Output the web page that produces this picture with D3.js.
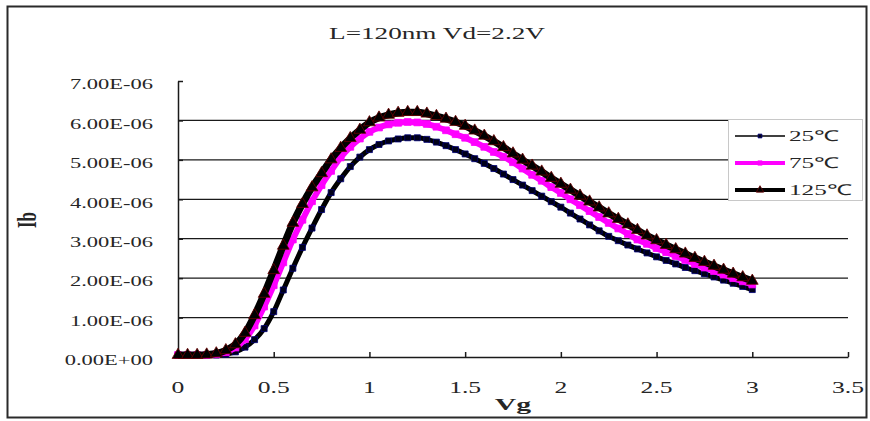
<!DOCTYPE html>
<html lang="en">
	<head>
		<title>Ib vs Vg</title>
		<script src="https://d3js.org/d3.v7.min.js"></script>
		<style>
			body { margin: 0; background: #fff; }
			text { font-family: "Liberation Serif", "Times New Roman", serif; fill: #262626; }
		</style>
	</head>
	<body>
		<div id="chart"></div>
		<script>

			var title = "L=120nm Vd=2.2V";
			var seriesNames = ["25\u2103", "75\u2103", "125\u2103"];

			// gate voltage (V)
			var vg = [0.00, 0.05, 0.10, 0.15, 0.20, 0.25, 0.30, 0.35, 0.40, 0.45,
					  0.50, 0.55, 0.60, 0.65, 0.70, 0.75, 0.80, 0.85, 0.90, 0.95,
					  1.00, 1.05, 1.10, 1.15, 1.20, 1.25, 1.30, 1.35, 1.40, 1.45,
					  1.50, 1.55, 1.60, 1.65, 1.70, 1.75, 1.80, 1.85, 1.90, 1.95,
					  2.00, 2.05, 2.10, 2.15, 2.20, 2.25, 2.30, 2.35, 2.40, 2.45,
					  2.50, 2.55, 2.60, 2.65, 2.70, 2.75, 2.80, 2.85, 2.90, 2.95, 3.00];

			// Ib in units of 1E-06
			var ib25 = [0.05, 0.05, 0.05, 0.05, 0.05, 0.07, 0.13, 0.25, 0.44, 0.72,
						1.15, 1.70, 2.25, 2.78, 3.27, 3.74, 4.17, 4.52, 4.83, 5.07,
						5.26, 5.39, 5.48, 5.53, 5.56, 5.56, 5.52, 5.45, 5.36, 5.26,
						5.15, 5.03, 4.91, 4.78, 4.64, 4.50, 4.36, 4.22, 4.08, 3.94,
						3.80, 3.65, 3.50, 3.35, 3.20, 3.06, 2.95, 2.84, 2.74, 2.64,
						2.54, 2.45, 2.36, 2.27, 2.19, 2.11, 2.03, 1.95, 1.87, 1.79, 1.71];

			var ib75 = [0.05, 0.05, 0.05, 0.05, 0.07, 0.12, 0.24, 0.45, 0.80, 1.28,
						1.82, 2.40, 2.98, 3.48, 3.95, 4.36, 4.72, 5.06, 5.33, 5.54,
						5.71, 5.82, 5.90, 5.94, 5.96, 5.95, 5.91, 5.84, 5.75, 5.65,
						5.56, 5.45, 5.33, 5.20, 5.08, 4.94, 4.78, 4.62, 4.47, 4.31,
						4.16, 4.00, 3.85, 3.70, 3.55, 3.40, 3.26, 3.12, 2.98, 2.87,
						2.76, 2.66, 2.56, 2.46, 2.36, 2.27, 2.18, 2.09, 2.00, 1.92, 1.84];

			var ib125 = [0.05, 0.05, 0.05, 0.06, 0.09, 0.17, 0.32, 0.61, 1.06, 1.60,
						 2.20, 2.82, 3.40, 3.88, 4.30, 4.66, 5.01, 5.30, 5.55, 5.76,
						 5.95, 6.07, 6.14, 6.19, 6.21, 6.21, 6.17, 6.11, 6.04, 5.96,
						 5.86, 5.74, 5.61, 5.47, 5.32, 5.16, 5.00, 4.85, 4.70, 4.54,
						 4.39, 4.24, 4.09, 3.94, 3.79, 3.64, 3.50, 3.36, 3.22, 3.08,
						 2.96, 2.84, 2.73, 2.62, 2.51, 2.41, 2.31, 2.21, 2.11, 2.02, 1.93];

			var xTicks = [0, 0.5, 1, 1.5, 2, 2.5, 3, 3.5];
			var xTickLabels = ["0", "0.5", "1", "1.5", "2", "2.5", "3", "3.5"];
			var yTicks = [0, 1, 2, 3, 4, 5, 6, 7];
			var yTickLabels = ["0.00E+00", "1.00E-06", "2.00E-06", "3.00E-06",
							   "4.00E-06", "5.00E-06", "6.00E-06", "7.00E-06"];

			var width = 870;
			var height = 421;

			var svg = d3.select('#chart').append('svg')
					  .attr('width', width)
					  .attr('height', height);

			// outer frame
			svg.append("rect")
				.attr("x", 7.5).attr("y", 6.5)
				.attr("width", 859).attr("height", 411)
				.attr("fill", "#fff")
				.attr("stroke", "#2a2a2a")
				.attr("stroke-width", 2);

			var x = d3.scaleLinear().domain([0, 3.5]).range([178, 848]);
			var y = d3.scaleLinear().domain([0, 7]).range([357, 81]);

			// the picture is stretched sideways, so text is too
			function stretched(sel, px, py, sx) {
				return sel.attr("transform", "translate(" + px + "," + py + ") scale(" + sx + ",1)");
			}

			// gridlines
			svg.append("g").selectAll("line")
				.data(yTicks.filter(function(d) { return d > 0 && d < 7; }))
				.enter().append("line")
				.attr("x1", x(0)).attr("x2", x(3.5))
				.attr("y1", function(d) { return y(d); })
				.attr("y2", function(d) { return y(d); })
				.attr("stroke", "#1a1a1a")
				.attr("stroke-width", 1.3);

			// axes with inside ticks
			svg.append("g")
				.attr("transform", "translate(" + x(0) + ",0)")
				.call(d3.axisLeft(y).tickValues(yTicks).tickSizeInner(-5).tickSizeOuter(0).tickFormat(""));
			svg.append("g")
				.attr("transform", "translate(0," + y(0) + ")")
				.call(d3.axisBottom(x).tickValues(xTicks).tickSizeInner(-5).tickSizeOuter(0).tickFormat(""));
			svg.selectAll(".domain, .tick line")
				.attr("stroke", "#1a1a1a")
				.attr("stroke-width", 1.5);

			// tick labels
			yTicks.forEach(function(d, i) {
				stretched(svg.append("text"), 153, y(d) + 3, 1.5)
					.attr("text-anchor", "end")
					.attr("dy", "0.35em")
					.attr("font-size", 15)
					.text(yTickLabels[i]);
			});
			xTicks.forEach(function(d, i) {
				stretched(svg.append("text"), x(d), 393, 1.6)
					.attr("text-anchor", "middle")
					.attr("font-size", 16)
					.text(xTickLabels[i]);
			});

			// titles
			stretched(svg.append("text"), 437, 39, 1.7)
				.attr("text-anchor", "middle")
				.attr("font-size", 16)
				.text(title);
			stretched(svg.append("text"), 513, 410, 1.75)
				.attr("text-anchor", "middle")
				.attr("font-size", 17)
				.attr("font-weight", "bold")
				.text("Vg");
			svg.append("text")
				.attr("transform", "translate(36,220) scale(1.6,1) rotate(-90)")
				.attr("text-anchor", "middle")
				.attr("font-size", 17)
				.attr("font-weight", "bold")
				.text("Ib");

			var series = [
				{ name: seriesNames[0], values: ib25, line: "#000", lw: 5, legendLw: 1.5,
				  symbol: d3.symbolSquare, size: 36, fill: "#000018", stroke: "#00007a" },
				{ name: seriesNames[1], values: ib75, line: "#ff00ff", lw: 6, legendLw: 4,
				  symbol: d3.symbolSquare, size: 46, fill: "#ff00ff", stroke: "#ff00ff" },
				{ name: seriesNames[2], values: ib125, line: "#000", lw: 7, legendLw: 4,
				  symbol: d3.symbolTriangle, size: 60, fill: "#000", stroke: "#6a0000" }
			];

			var line = d3.line()
				.curve(d3.curveMonotoneX)
				.x(function(d) { return x(d[0]); })
				.y(function(d) { return y(d[1]); });

			series.forEach(function(s) {
				var pts = vg.map(function(v, i) { return [v, s.values[i]]; });
				var g = svg.append("g");
				g.append("path")
					.attr("d", line(pts))
					.attr("fill", "none")
					.attr("stroke", s.line)
					.attr("stroke-width", s.lw)
					.attr("stroke-linejoin", "round");
				g.selectAll("path.m")
					.data(pts)
					.enter().append("path")
					.attr("class", "m")
					.attr("transform", function(d) { return "translate(" + x(d[0]) + "," + y(d[1]) + ")"; })
					.attr("d", d3.symbol().type(s.symbol).size(s.size))
					.attr("fill", s.fill)
					.attr("stroke", s.stroke)
					.attr("stroke-width", 0.8);
			});

			// legend
			var legend = svg.append("g");
			legend.append("rect")
				.attr("x", 728.5).attr("y", 119.5)
				.attr("width", 134).attr("height", 81)
				.attr("fill", "#fff")
				.attr("stroke", "#c8c8c8");
			series.forEach(function(s, i) {
				var ly = 136 + i * 27;
				legend.append("line")
					.attr("x1", 735).attr("x2", 785)
					.attr("y1", ly).attr("y2", ly)
					.attr("stroke", s.line)
					.attr("stroke-width", s.legendLw);
				legend.append("path")
					.attr("transform", "translate(760," + ly + ")")
					.attr("d", d3.symbol().type(s.symbol).size(s.size * 0.4))
					.attr("fill", s.fill)
					.attr("stroke", s.stroke)
					.attr("stroke-width", 0.8);
				stretched(legend.append("text"), 789, ly + 5, 1.68)
					.attr("font-size", 15)
					.text(s.name);
			});

		</script>
	</body>
</html>
